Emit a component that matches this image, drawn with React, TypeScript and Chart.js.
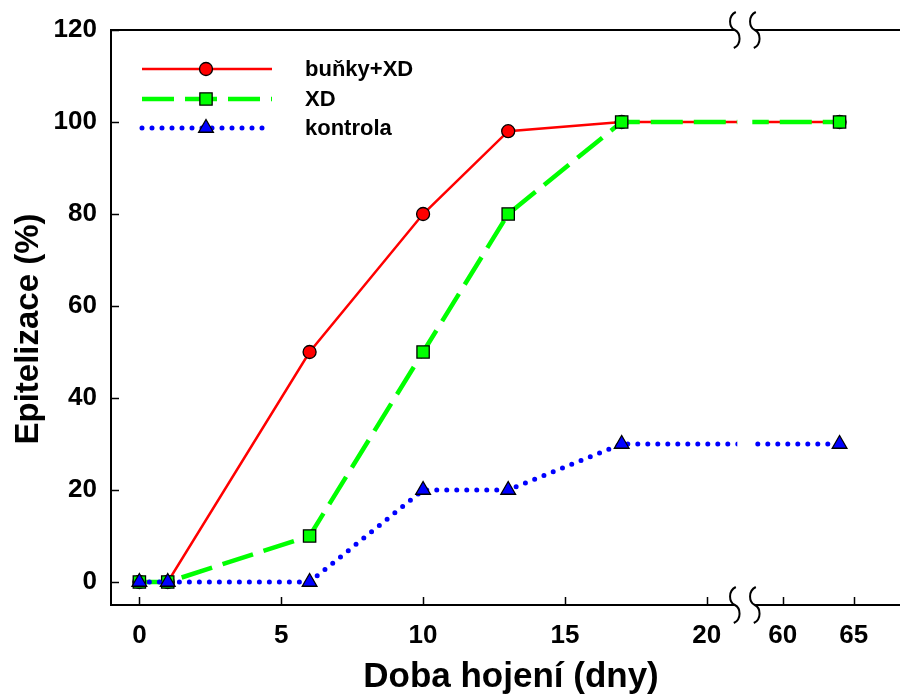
import { useEffect, useRef } from 'react';
import { Chart, registerables } from 'chart.js';

Chart.register(...registerables);

// ---- data ----
const days = [0, 1, 6, 10, 13, 17, 64];
const bunkyXD = [0, 0, 50, 80, 98, 100, 100];
const xdOnly = [0, 0, 10, 50, 80, 100, 100];
const kontrola = [0, 0, 0, 20, 20, 30, 30];
const seriesNames = ['buňky+XD', 'XD', 'kontrola'];
const xTickDays = [0, 5, 10, 15, 20, 60, 65];
const yTickValues = [0, 20, 40, 60, 80, 100, 120];
const xTitle = 'Doba hojení (dny)';
const yTitle = 'Epitelizace (%)';

// ---- broken x axis mapping ----
const BREAK_LOW = 20;
const BREAK_HIGH = 60;
const BREAK_OFFSET = 2.68;
const RIGHT_SCALE = 0.5;
function mapDay(d: number): number {
  return d <= BREAK_LOW ? d : BREAK_LOW + BREAK_OFFSET + (d - BREAK_HIGH) * RIGHT_SCALE;
}

const FONT = '"Liberation Sans", Arial, sans-serif';
const RED = '#ff0000';
const GREEN = '#00ff00';
const BLUE = '#0000ff';

type Style = {
  color: string;
  width: number;
  dash: number[];
  cap: CanvasLineCap;
  marker: 'circle' | 'rect' | 'triangle';
  radius: number;
};
const styles: Style[] = [
  { color: RED, width: 2.5, dash: [], cap: 'butt', marker: 'circle', radius: 6.5 },
  { color: GREEN, width: 4.5, dash: [32, 11], cap: 'butt', marker: 'rect', radius: 8.7 },
  { color: BLUE, width: 5, dash: [0, 10], cap: 'round', marker: 'triangle', radius: 8.5 },
];

function drawMarker(ctx: CanvasRenderingContext2D, s: Style, x: number, y: number) {
  ctx.save();
  ctx.setLineDash([]);
  ctx.fillStyle = s.color;
  ctx.strokeStyle = '#000';
  ctx.lineWidth = 1.3;
  ctx.beginPath();
  const r = s.radius;
  if (s.marker === 'circle') {
    ctx.arc(x, y, r, 0, Math.PI * 2);
  } else if (s.marker === 'rect') {
    const h = Math.SQRT1_2 * r;
    ctx.rect(x - h, y - h, 2 * h, 2 * h);
  } else {
    const w = r * Math.sin((2 * Math.PI) / 3);
    ctx.moveTo(x, y - r);
    ctx.lineTo(x + w, y + r / 2);
    ctx.lineTo(x - w, y + r / 2);
    ctx.closePath();
  }
  ctx.fill();
  ctx.stroke();
  ctx.restore();
}

function drawBreakCurve(ctx: CanvasRenderingContext2D, cx: number, cy: number) {
  ctx.save();
  ctx.strokeStyle = '#000';
  ctx.lineWidth = 2;
  ctx.setLineDash([]);
  ctx.beginPath();
  ctx.moveTo(cx + 1, cy - 18);
  ctx.bezierCurveTo(cx - 7, cy - 14, cx - 6, cy - 3, cx, cy);
  ctx.bezierCurveTo(cx + 6, cy + 3, cx + 7, cy + 14, cx - 1, cy + 18);
  ctx.stroke();
  ctx.restore();
}

const decorPlugin = {
  id: 'decor',
  afterDatasetsDraw(chart: any) {
    const ctx: CanvasRenderingContext2D = chart.ctx;
    const { left, top, bottom } = chart.chartArea;
    const right = chart.width;
    const xs = chart.scales.x;
    const ys = chart.scales.y;
    ctx.save();
    // axis lines
    ctx.strokeStyle = '#000';
    ctx.lineWidth = 2;
    ctx.setLineDash([]);
    ctx.beginPath();
    ctx.moveTo(left, top);
    ctx.lineTo(left, bottom);
    ctx.moveTo(left - 1, bottom);
    ctx.lineTo(right, bottom);
    ctx.moveTo(left - 1, top);
    ctx.lineTo(right, top);
    ctx.stroke();
    // inward ticks
    ctx.lineWidth = 1.5;
    ctx.beginPath();
    for (const v of yTickValues) {
      const y = Math.round(ys.getPixelForValue(v)) + 0.5;
      ctx.moveTo(left, y);
      ctx.lineTo(left + 8, y);
    }
    for (const d of xTickDays) {
      const x = Math.round(xs.getPixelForValue(mapDay(d))) + 0.5;
      ctx.moveTo(x, bottom);
      ctx.lineTo(x, bottom - 8);
    }
    ctx.stroke();
    // axis break
    const mid = (xs.getPixelForValue(mapDay(BREAK_LOW)) + xs.getPixelForValue(mapDay(BREAK_HIGH))) / 2;
    const c1 = mid - 10;
    const c2 = mid + 10;
    ctx.fillStyle = '#fff';
    ctx.fillRect(c1 + 2.5, top + 2, c2 - c1 - 5, bottom - top - 4);
    ctx.fillRect(c1, top - 3, c2 - c1, 6);
    ctx.fillRect(c1, bottom - 3, c2 - c1, 6);
    drawBreakCurve(ctx, c1, top);
    drawBreakCurve(ctx, c2, top);
    drawBreakCurve(ctx, c1, bottom);
    drawBreakCurve(ctx, c2, bottom);
    // legend
    const legY = [69, 99, 128];
    styles.forEach((s, i) => {
      const y = legY[i];
      ctx.save();
      ctx.strokeStyle = s.color;
      ctx.lineWidth = s.width;
      ctx.lineCap = s.cap;
      ctx.setLineDash(s.dash);
      ctx.beginPath();
      ctx.moveTo(142, y);
      ctx.lineTo(272, y);
      ctx.stroke();
      ctx.restore();
      drawMarker(ctx, s, 206, y);
      ctx.fillStyle = '#000';
      ctx.font = `bold 22px ${FONT}`;
      ctx.textAlign = 'left';
      ctx.textBaseline = 'middle';
      ctx.fillText(seriesNames[i], 305, y + 1);
    });
    // axis titles
    ctx.fillStyle = '#000';
    ctx.textAlign = 'center';
    ctx.textBaseline = 'middle';
    ctx.font = `bold 35px ${FONT}`;
    ctx.fillText(xTitle, 511, 677);
    ctx.save();
    ctx.translate(29, 329);
    ctx.rotate(-Math.PI / 2);
    ctx.font = `bold 33px ${FONT}`;
    ctx.fillText(yTitle, 0, 0);
    ctx.restore();
    ctx.restore();
  },
};

export default function App() {
  const ref = useRef<HTMLCanvasElement | null>(null);
  useEffect(() => {
    if (!ref.current) return;
    const seriesValues = [bunkyXD, xdOnly, kontrola];
    const datasets = seriesValues.map((vals, i) => {
      const s = styles[i];
      return {
        label: seriesNames[i],
        data: days.map((d, j) => ({ x: mapDay(d), y: vals[j] })),
        borderColor: s.color,
        backgroundColor: s.color,
        borderWidth: s.width,
        borderDash: s.dash,
        borderCapStyle: s.cap,
        pointStyle: s.marker,
        pointRadius: s.radius,
        pointHoverRadius: s.radius,
        pointBackgroundColor: s.color,
        pointBorderColor: '#000',
        pointBorderWidth: 1.3,
        tension: 0,
        fill: false,
        order: 3 - i,
      };
    });
    const tickFont = { family: FONT, size: 26, weight: 'bold' as const };
    const chart = new Chart(ref.current, {
      type: 'line',
      data: { datasets } as any,
      options: {
        animation: false,
        responsive: false,
        devicePixelRatio: 1,
        layout: { autoPadding: false, padding: { top: 30, right: 0, left: 0, bottom: 0 } },
        plugins: { legend: { display: false }, tooltip: { enabled: false } },
        scales: {
          x: {
            type: 'linear',
            min: -1,
            max: 26.81,
            grid: { display: false, drawTicks: false },
            border: { display: false },
            afterBuildTicks: (s: any) => {
              s.ticks = xTickDays.map((d) => ({ value: mapDay(d) }));
            },
            afterFit: (s: any) => {
              s.height = 92;
              s.paddingLeft = 0;
              s.paddingRight = 0;
            },
            ticks: {
              autoSkip: false,
              maxRotation: 0,
              padding: 15,
              color: '#000',
              font: tickFont,
              callback: (_v: any, i: number) => String(xTickDays[i]),
            },
          },
          y: {
            type: 'linear',
            min: -5,
            max: 120,
            grid: { display: false, drawTicks: false },
            border: { display: false },
            afterBuildTicks: (s: any) => {
              s.ticks = yTickValues.map((v) => ({ value: v }));
            },
            afterFit: (s: any) => {
              s.width = 111;
              s.paddingTop = 0;
              s.paddingBottom = 0;
            },
            ticks: {
              padding: 14,
              color: '#000',
              font: tickFont,
              callback: (v: any) => String(v),
            },
          },
        },
      } as any,
      plugins: [decorPlugin],
    });
    return () => chart.destroy();
  }, []);
  return (
    <div style={{ position: 'fixed', left: 0, top: 0, width: 900, height: 697, background: '#fff' }}>
      <canvas ref={ref} width={900} height={697} style={{ display: 'block', width: 900, height: 697 }} />
    </div>
  );
}
